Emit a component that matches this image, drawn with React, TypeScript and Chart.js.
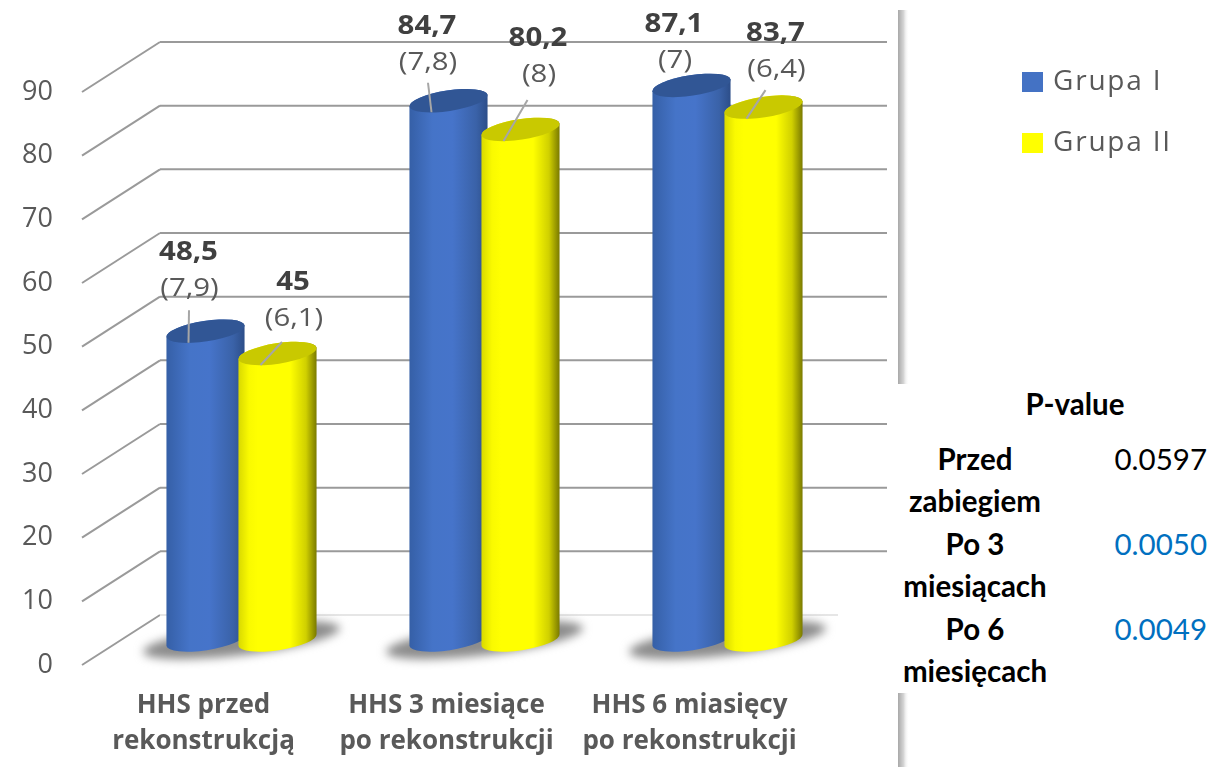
import React, { useEffect, useRef } from "react";
import { Chart, registerables } from "chart.js";

Chart.register(...registerables);

const categories = [
  ["HHS przed", "rekonstrukcją"],
  ["HHS 3 miesiące", "po rekonstrukcji"],
  ["HHS 6 miasięcy", "po rekonstrukcji"],
];
const groupOneValues = [48.5, 84.7, 87.1];
const groupTwoValues = [45, 80.2, 83.7];
const groupOneDeviation = ["(7,9)", "(7,8)", "(7)"];
const groupTwoDeviation = ["(6,1)", "(8)", "(6,4)"];
const groupOneValueText = ["48,5", "84,7", "87,1"];
const groupTwoValueText = ["45", "80,2", "83,7"];
const seriesNames = ["Grupa I", "Grupa II"];
const pValueRows = [
  { label: ["Przed", "zabiegiem"], value: "0.0597", color: "#000000" },
  { label: ["Po 3", "miesiącach"], value: "0.0050", color: "#0070c0" },
  { label: ["Po 6", "miesięcach"], value: "0.0049", color: "#0070c0" },
];

// Label placement relative to the centre of each cylinder's top: [dx, dy, leader start dx, dy, or null]
const labelPlacement = [
  [
    [-17, -79, -16.5, -21],
    [-21.5, -74, -20.5, -18],
    [-17.5, -61, null, null],
  ],
  [
    [15.5, -71, 4.5, -11.5],
    [17.5, -91, 7, -29.5],
    [12, -74, 2, -17],
  ],
];

const FONT = "'Open Sans', sans-serif";
const DEPTH_BACK = { dx: 78, dy: -50 };
const BAR_LIFT = 25;
const TILT = (-8.6 * Math.PI) / 180;
const GRID_RIGHT = 887;
const PANEL_EDGE = 898;
const LABEL_STRETCH = 1.13;
const LEGEND_SWATCH_STROKE = 8;

const bodyStops = [
  [
    [0, "#355fa6"],
    [0.3, "#4574c8"],
    [0.55, "#4674ca"],
    [0.85, "#3a62a8"],
    [1, "#2c4d88"],
  ],
  [
    [0, "#d8d800"],
    [0.14, "#fafa00"],
    [0.25, "#ffff00"],
    [0.66, "#ffff00"],
    [0.86, "#d0d000"],
    [1, "#767600"],
  ],
];
const topColors = ["#315695", "#c9c900"];

function stretchedText(ctx: any, text: string, x: number, y: number) {
  ctx.save();
  ctx.translate(x, y);
  ctx.scale(LABEL_STRETCH, 1);
  ctx.fillText(text, 0, 0);
  ctx.restore();
}

const cylinderPlugin = {
  id: "cylinders",
  afterLayout(chart: any) {
    const legend = chart.legend;
    const pad = legend.options.labels.padding;
    const h = legend.height;
    legend.left = 1022 + LEGEND_SWATCH_STROKE / 2 - pad;
    legend.right = 1212;
    legend.top = 68 - pad;
    legend.bottom = legend.top + h + 20;
    if (!legend.__spaced) {
      const draw = legend.draw.bind(legend);
      legend.draw = () => {
        chart.ctx.save();
        chart.ctx.letterSpacing = "1.8px";
        draw();
        chart.ctx.restore();
      };
      legend.__spaced = true;
    }
  },
  beforeDatasetsDraw(chart: any) {
    const { ctx } = chart;
    const yScale = chart.scales.y;

    // Drop shadow of the panel along its right side
    const band = ctx.createLinearGradient(PANEL_EDGE, 0, PANEL_EDGE + 11, 0);
    band.addColorStop(0, "#a8a8a8");
    band.addColorStop(0.5, "#d4d4d4");
    band.addColorStop(1, "rgba(255,255,255,0)");
    ctx.fillStyle = band;
    ctx.fillRect(PANEL_EDGE, 10, 11, 757);

    // Side wall and back wall grid lines
    yScale.ticks.forEach((tick: any) => {
      const y = yScale.getPixelForValue(tick.value);
      const isFloor = tick.value === 0;
      ctx.lineWidth = 2;
      ctx.strokeStyle = "#9a9a9a";
      ctx.beginPath();
      ctx.moveTo(82, y);
      ctx.lineTo(82 + DEPTH_BACK.dx, y + DEPTH_BACK.dy);
      ctx.stroke();
      ctx.strokeStyle = isFloor ? "#e6e6e6" : "#9a9a9a";
      ctx.beginPath();
      ctx.moveTo(82 + DEPTH_BACK.dx, y + DEPTH_BACK.dy);
      ctx.lineTo(isFloor ? 838 : GRID_RIGHT, y + DEPTH_BACK.dy);
      ctx.stroke();
    });

    const metas = [chart.getDatasetMeta(0), chart.getDatasetMeta(1)];

    // Floor shadow under each pair of cylinders
    categories.forEach((_, i) => {
      const a = metas[0].data[i];
      const b = metas[1].data[i];
      ctx.save();
      ctx.filter = "blur(5px)";
      ctx.fillStyle = "#8c8c8c";
      ctx.beginPath();
      ctx.ellipse(
        (a.x + b.x) / 2,
        a.base - BAR_LIFT,
        99,
        15,
        (-7 * Math.PI) / 180,
        0,
        Math.PI * 2
      );
      ctx.fill();
      ctx.restore();
    });

    // Cylinders
    categories.forEach((_, i) => {
      metas.forEach((meta, s) => {
        const el = meta.data[i];
        const rx = el.width / 2;
        const ry = rx * 0.26;
        const top = el.y - BAR_LIFT;
        const bottom = el.base - BAR_LIFT;
        const grad = ctx.createLinearGradient(el.x - rx, 0, el.x + rx, 0);
        bodyStops[s].forEach(([p, c]) => grad.addColorStop(p as number, c as string));
        ctx.fillStyle = grad;
        ctx.beginPath();
        ctx.ellipse(el.x, bottom, rx, ry, TILT, 0, Math.PI);
        ctx.ellipse(el.x, top, rx, ry, TILT, Math.PI, Math.PI * 2);
        ctx.closePath();
        ctx.fill();
        ctx.fillStyle = topColors[s];
        ctx.beginPath();
        ctx.ellipse(el.x, top, rx, ry, TILT, 0, Math.PI * 2);
        ctx.fill();
      });
    });

    // Value labels with leader lines
    const valueText = [groupOneValueText, groupTwoValueText];
    const deviationText = [groupOneDeviation, groupTwoDeviation];
    ctx.textAlign = "center";
    ctx.textBaseline = "middle";
    categories.forEach((_, i) => {
      metas.forEach((meta, s) => {
        const el = meta.data[i];
        const top = el.y - BAR_LIFT;
        const [dx, dy, lx, ly] = labelPlacement[s][i] as any[];
        if (lx !== null) {
          ctx.strokeStyle = "#a6a6a6";
          ctx.lineWidth = 2;
          ctx.beginPath();
          ctx.moveTo(el.x + lx, top + ly);
          ctx.lineTo(el.x - 17, top + 11.5);
          ctx.stroke();
        }
        ctx.font = `bold 26px ${FONT}`;
        ctx.fillStyle = "#404040";
        stretchedText(ctx, valueText[s][i], el.x + dx, top + dy);
        ctx.font = `26px ${FONT}`;
        ctx.fillStyle = "#595959";
        stretchedText(ctx, deviationText[s][i], el.x + dx + 1, top + dy + 36);
      });
    });

    // The cylinders above replace the flat bar rectangles
    return false;
  },
};

export default function App() {
  const canvasRef = useRef<HTMLCanvasElement | null>(null);

  useEffect(() => {
    const chart = new Chart(canvasRef.current as HTMLCanvasElement, {
      type: "bar",
      data: {
        labels: categories as any,
        datasets: [
          {
            label: seriesNames[0],
            data: groupOneValues,
            backgroundColor: "#4472c4",
            borderColor: "#4472c4",
            borderWidth: LEGEND_SWATCH_STROKE,
          },
          {
            label: seriesNames[1],
            data: groupTwoValues,
            backgroundColor: "#ffff00",
            borderColor: "#ffff00",
            borderWidth: LEGEND_SWATCH_STROKE,
          },
        ],
      },
      options: {
        responsive: false,
        animation: false,
        events: [],
        layout: { padding: { top: 92, right: 363, bottom: 0, left: 0 } },
        datasets: { bar: { categoryPercentage: 0.5926, barPercentage: 1.097 } },
        scales: {
          x: {
            grid: { display: false },
            border: { display: false },
            afterFit: (scale: any) => {
              scale.height = 102;
            },
            ticks: {
              padding: 15,
              labelOffset: -38,
              maxRotation: 0,
              autoSkip: false,
              color: "#595959",
              font: { family: FONT, size: 26, weight: "bold", lineHeight: 1.38 },
            },
          },
          y: {
            min: 0,
            max: 90,
            grid: { display: false, drawTicks: false },
            border: { display: false },
            afterFit: (scale: any) => {
              scale.width = 120;
            },
            ticks: {
              stepSize: 10,
              padding: 67,
              color: "#595959",
              font: { family: FONT, size: 27 },
            },
          },
        },
        plugins: {
          tooltip: { enabled: false },
          legend: {
            position: "chartArea" as any,
            align: "start",
            labels: {
              boxWidth: 21 - LEGEND_SWATCH_STROKE,
              boxHeight: 20 - LEGEND_SWATCH_STROKE,
              padding: 33,
              color: "#595959",
              font: { family: FONT, size: 28 },
            },
          },
        },
      },
      plugins: [cylinderPlugin],
    });
    return () => chart.destroy();
  }, []);

  const cellFont = { fontFamily: "Lato, sans-serif", fontSize: 29.5, lineHeight: "42px", padding: 0 };

  return (
    <div style={{ position: "absolute", left: 0, top: 0, width: 1212, height: 767, overflow: "hidden" }}>
      <canvas ref={canvasRef} width={1212} height={767} style={{ display: "block" }} />
      <table
        style={{
          position: "absolute",
          left: PANEL_EDGE,
          top: 384,
          width: 314,
          height: 309,
          background: "#ffffff",
          borderCollapse: "collapse",
          tableLayout: "fixed",
          color: "#000000",
        }}
      >
        <colgroup>
          <col style={{ width: 154 }} />
          <col />
        </colgroup>
        <tbody>
          <tr style={{ height: 54 }}>
            <th colSpan={2} style={{ ...cellFont, paddingLeft: 40, lineHeight: "40px", verticalAlign: "top", textAlign: "center" }}>
              P-value
            </th>
          </tr>
          {pValueRows.map((row) => (
            <tr key={row.value}>
              <th style={{ ...cellFont, textAlign: "center", verticalAlign: "top" }}>
                {row.label.map((line) => (
                  <div key={line}>{line}</div>
                ))}
              </th>
              <td style={{ ...cellFont, color: row.color, textAlign: "right", paddingRight: 5, verticalAlign: "top" }}>
                {row.value}
              </td>
            </tr>
          ))}
        </tbody>
      </table>
    </div>
  );
}
